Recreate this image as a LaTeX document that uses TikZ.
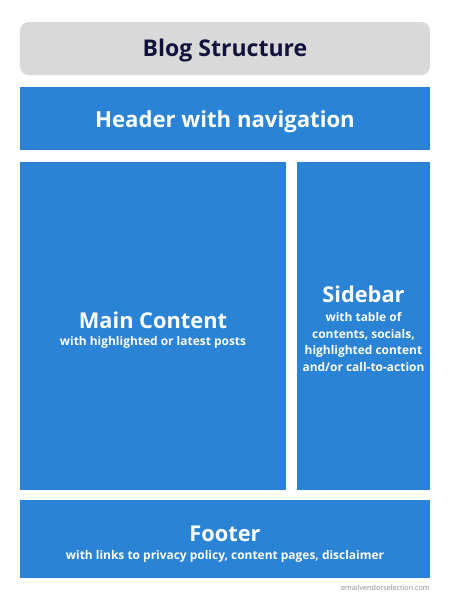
\documentclass[tikz,border=0pt]{standalone}
\usepackage{fontspec}
\setmainfont{Open Sans}
\usetikzlibrary{positioning}

\definecolor{pageblue}{HTML}{2A83D4}
\definecolor{titlegray}{HTML}{D9D9D9}
\definecolor{titleink}{HTML}{13123D}

\tikzset{
  block/.style = {fill=pageblue},
  head/.style = {text=white, font=\bfseries\fontsize{12.4}{14}\selectfont},
  sub/.style = {text=white, font=\bfseries\fontsize{6.8}{9.4}\selectfont, align=center},
}

\begin{document}
\begin{tikzpicture}[x=0.02cm, y=-0.02cm]
  \useasboundingbox (0,0) rectangle (450,600);

  % title bar
  \fill[titlegray, rounded corners=0.17cm] (20,22) rectangle (430,75);
  \node[text=titleink, font=\bfseries\fontsize{13.1}{16}\selectfont] (title) at (225,51) {Blog Structure};

  % header
  \fill[block] (20,87) rectangle (430,150);
  \node[head, font=\bfseries\fontsize{12.6}{14}\selectfont] (header) at (225,121.5) {Header with navigation};

  % main content
  \fill[block] (20,162) rectangle (286,490);
  \node[head] (main) at (153,320) {Main Content};
  \node[sub] (mainsub) at (153,342) {with highlighted or latest posts};

  % sidebar
  \fill[block] (297,162) rectangle (430,490);
  \node[head] (side) at (363.5,294) {Sidebar};
  \node[sub] (sidesub) at (363.5,342) {with table of\\contents, socials,\\highlighted content\\and/or call-to-action};

  % footer
  \fill[block] (20,500) rectangle (430,578);
  \node[head] (footer) at (225,533.5) {Footer};
  \node[sub] (footsub) at (225,556) {with links to privacy policy, content pages, disclaimer};

  \node[anchor=east, inner sep=0pt, text=black!45, font=\fontsize{4.1}{5}\selectfont] (mark) at (430,587.5) {emailvendorselection.com};
\end{tikzpicture}
\end{document}
